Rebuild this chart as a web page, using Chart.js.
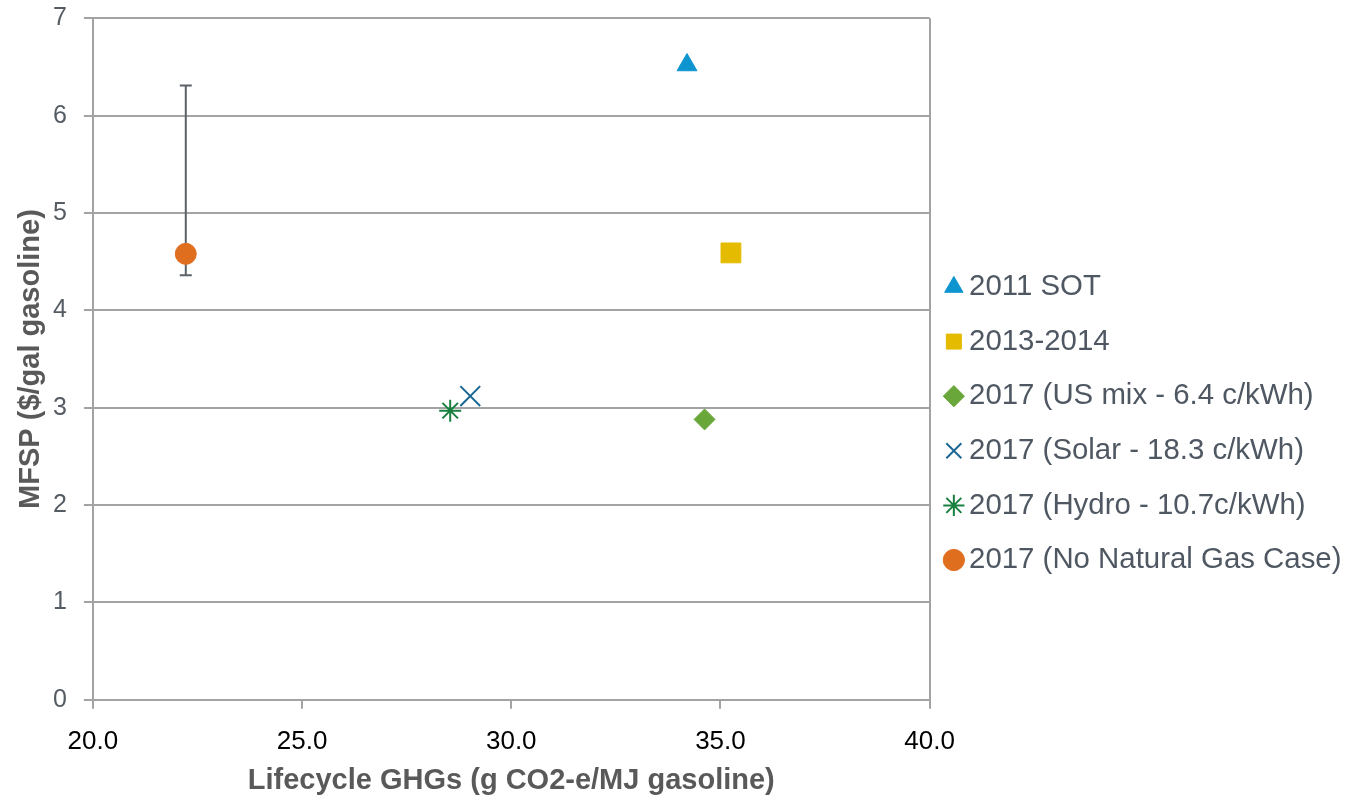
<!DOCTYPE html>
<html>
<head>
<meta charset="utf-8">
<script src="https://cdn.jsdelivr.net/npm/chart.js@4.4.1/dist/chart.umd.min.js"></script>
<style>
  html, body { margin: 0; padding: 0; background: #fff; }
  #wrap { width: 1346px; height: 795px; position: relative; }
</style>
</head>
<body>
<div id="wrap"><canvas id="chart"></canvas></div>
<script>
// Series data
const seriesNames = [
  '2011 SOT',
  '2013-2014',
  '2017 (US mix - 6.4 c/kWh)',
  '2017 (Solar - 18.3 c/kWh)',
  '2017 (Hydro - 10.7c/kWh)',
  '2017 (No Natural Gas Case)'
];
const ghgValues = [34.2, 35.25, 34.62, 29.02, 28.54, 22.22];
const mfspValues = [6.52, 4.59, 2.88, 3.12, 2.97, 4.58];
// Error bar only on the No Natural Gas case
const errLow = [null, null, null, null, null, 4.36];
const errHigh = [null, null, null, null, null, 6.31];

const markerColors = ['#0e95d0', '#e5bb00', '#6aa73a', '#1c6893', '#1a8040', '#df6e1f'];
const markerStyles = ['triangle', 'rect', 'rectRot', 'crossRot', 'star', 'circle'];
const markerSizes = [11.5, 14, 10.5, 14, 11, 10.5];

const datasets = seriesNames.map(function (name, i) {
  const lineLike = markerStyles[i] === 'crossRot' || markerStyles[i] === 'star';
  return {
    label: name,
    data: [{ x: ghgValues[i], y: mfspValues[i] }],
    pointStyle: markerStyles[i],
    pointRadius: markerSizes[i],
    pointHoverRadius: markerSizes[i],
    backgroundColor: markerColors[i],
    borderColor: markerColors[i],
    borderWidth: lineLike ? 2 : 1
  };
});

// Draws the vertical error bar under the point
const errorBarPlugin = {
  id: 'errorBars',
  beforeDatasetsDraw: function (chart) {
    const ctx = chart.ctx;
    const xs = chart.scales.x;
    const ys = chart.scales.y;
    ctx.save();
    ctx.strokeStyle = '#5b6168';
    ctx.lineWidth = 2;
    for (let i = 0; i < errLow.length; i++) {
      if (errLow[i] === null) continue;
      const px = xs.getPixelForValue(ghgValues[i]);
      const yLo = ys.getPixelForValue(errLow[i]);
      const yHi = ys.getPixelForValue(errHigh[i]);
      ctx.beginPath();
      ctx.moveTo(px, yLo);
      ctx.lineTo(px, yHi);
      ctx.moveTo(px - 6, yLo);
      ctx.lineTo(px + 6, yLo);
      ctx.moveTo(px - 6, yHi);
      ctx.lineTo(px + 6, yHi);
      ctx.stroke();
    }
    ctx.restore();
  }
};

// Nudge the legend box down a little, like the original
const legendShift = {
  id: 'legendShift',
  afterLayout: function (chart) {
    const lg = chart.legend;
    if (!lg) return;
    lg.left -= 1.5;
    lg.right -= 1.5;
    lg.top += 26;
    lg.bottom += 26;
  }
};

const gridGray = '#a3a3a3';
const fontFamily = 'Liberation Sans, Arial, sans-serif';

new Chart(document.getElementById('chart'), {
  type: 'scatter',
  data: { datasets: datasets },
  plugins: [errorBarPlugin, legendShift],
  options: {
    responsive: true,
    maintainAspectRatio: false,
    animation: false,
    layout: { padding: { top: 0, right: -7, left: 0, bottom: 0 } },
    plugins: {
      tooltip: { enabled: false },
      legend: {
        position: 'right',
        align: 'center',
        maxWidth: 470,
        labels: {
          usePointStyle: true,
          boxWidth: 1,
          boxHeight: 15,
          padding: 25.2,
          color: '#4f5862',
          font: { family: fontFamily, size: 29.4 }
        }
      }
    },
    scales: {
      x: {
        type: 'linear',
        min: 20,
        max: 40,
        ticks: {
          stepSize: 5,
          color: '#000',
          padding: 17,
          font: { family: fontFamily, size: 26 },
          callback: function (v) { return v.toFixed(1); }
        },
        grid: {
          drawOnChartArea: true,
          color: function (c) { return c.tick && c.tick.value === 40 ? gridGray : 'rgba(0,0,0,0)'; },
          tickColor: gridGray,
          tickLength: 9,
          lineWidth: 2
        },
        border: { color: gridGray, width: 2 },
        title: {
          display: true,
          text: 'Lifecycle GHGs (g CO2-e/MJ gasoline)',
          color: '#595959',
          padding: { top: -8, bottom: 0 },
          font: { family: fontFamily, size: 29, weight: 'bold', lineHeight: 1.0 }
        }
      },
      y: {
        min: 0,
        max: 7,
        ticks: {
          stepSize: 1,
          color: '#555c64',
          padding: 17,
          font: { family: fontFamily, size: 25, lineHeight: 0.1 }
        },
        grid: {
          color: gridGray,
          tickColor: gridGray,
          tickLength: 9,
          lineWidth: 2
        },
        border: { color: gridGray, width: 2 },
        title: {
          display: true,
          text: 'MFSP ($/gal gasoline)',
          color: '#595959',
          padding: { top: 16, bottom: -9 },
          font: { family: fontFamily, size: 29, weight: 'bold', lineHeight: 1.0 }
        }
      }
    }
  }
});
</script>
</body>
</html>
